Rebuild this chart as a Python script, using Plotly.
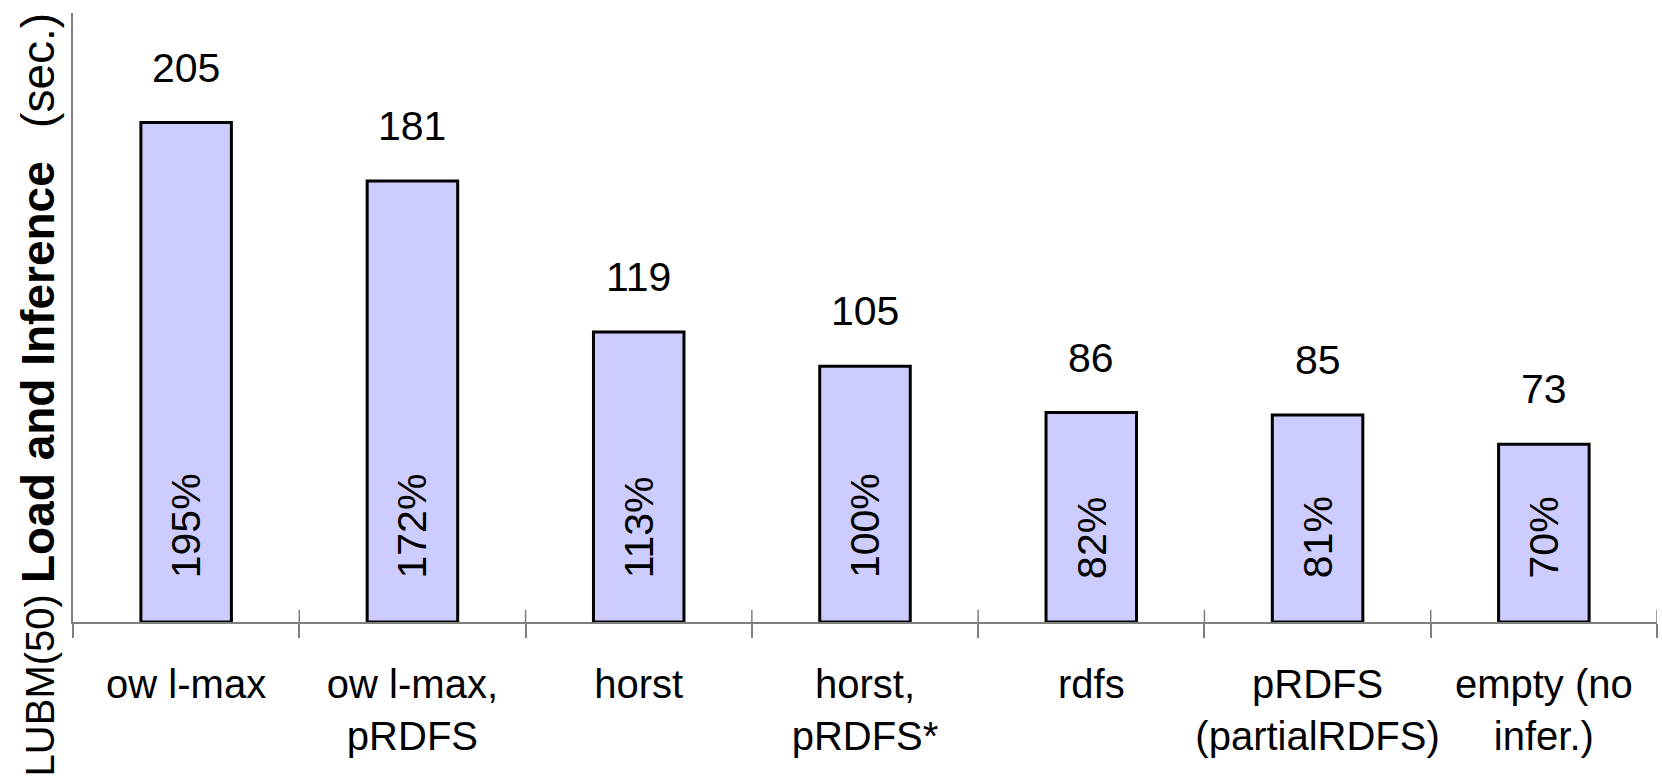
import plotly.graph_objects as go

# Reasoner configurations and their load + inference times on LUBM(50)
configs = [
    "ow l-max",
    "ow l-max,<br>pRDFS",
    "horst",
    "horst,<br>pRDFS*",
    "rdfs",
    "pRDFS<br>(partialRDFS)",
    "empty (no<br>infer.)",
]
seconds = [205, 181, 119, 105, 86, 85, 73]
relative = ["195%", "172%", "113%", "100%", "82%", "81%", "70%"]

FONT = "Liberation Sans, Arial, Helvetica, sans-serif"
FS = 40
AXIS_GREY = "#7f7f7f"

fig = go.Figure()
fig.add_trace(
    go.Bar(
        x=configs,
        y=seconds,
        width=0.4,
        marker=dict(color="#CCCCFF", line=dict(color="black", width=3)),
        hoverinfo="skip",
    )
)

annotations = []
# totals above each bar
for c, v in zip(configs, seconds):
    annotations.append(
        dict(
            x=c, y=v, xref="x", yref="y", text=str(v), showarrow=False,
            yanchor="bottom", xanchor="center", yshift=30,
            font=dict(family=FONT, size=41, color="black"),
        )
    )
# relative times, written upward from the base of each bar
for c, r in zip(configs, relative):
    annotations.append(
        dict(
            x=c, y=17, xref="x", yref="y", text=r, showarrow=False,
            textangle=-90, yanchor="bottom", xanchor="center",
            font=dict(family=FONT, size=41, color="black"),
        )
    )
# axis title with the bold middle part
annotations.append(
    dict(
        x=-0.0221, y=-0.256, xref="paper", yref="paper",
        text=("LUBM(50) <b><span style=\"font-size:46px\">Load and Inference</span></b>"
              "&nbsp;&nbsp; <span style=\"font-size:46px\">(sec.)</span>"),
        showarrow=False, textangle=-90, xanchor="center", yanchor="bottom",
        font=dict(family=FONT, size=40, color="black"),
    )
)

# upper halves of the category separator ticks (they straddle the axis line)
shapes = []
for k in range(len(configs)):
    shapes.append(
        dict(type="line", xref="x", yref="y", x0=k + 0.5, x1=k + 0.5, y0=0, y1=5,
             line=dict(color=AXIS_GREY, width=1.5))
    )

fig.update_layout(
    width=1662, height=783,
    margin=dict(l=73, r=5, t=13, b=161),
    paper_bgcolor="white", plot_bgcolor="white",
    showlegend=False,
    annotations=annotations,
    shapes=shapes,
    xaxis=dict(
        type="category",
        range=[-0.5, 6.5],
        tickangle=0,
        ticks="outside", tickson="boundaries", ticklen=14, tickwidth=1.5,
        tickcolor=AXIS_GREY,
        showline=True, linecolor=AXIS_GREY, linewidth=1.5,
        showgrid=False, zeroline=False, automargin=False,
        ticklabelstandoff=26,
        tickfont=dict(family=FONT, size=FS, color="black"),
    ),
    yaxis=dict(
        range=[0, 250],
        showline=True, linecolor=AXIS_GREY, linewidth=1.5,
        showticklabels=False, ticks="", showgrid=False, zeroline=False,
        automargin=False,
    ),
)

fig.write_html("out.html")
